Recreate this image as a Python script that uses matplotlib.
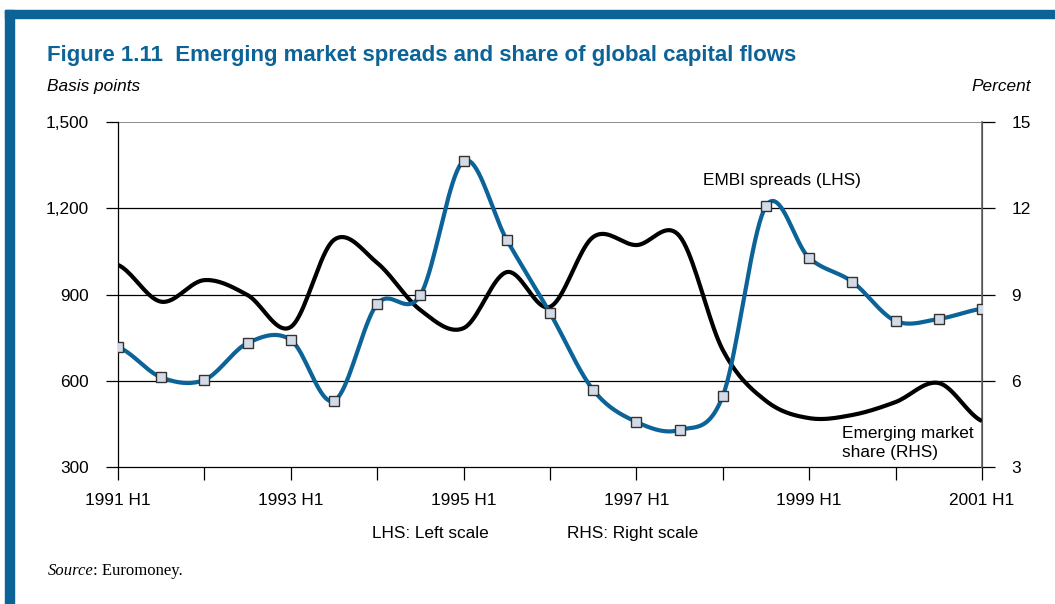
import numpy as np
import matplotlib
matplotlib.use('Agg')
import matplotlib.pyplot as plt
from matplotlib.patches import Rectangle

# half-year periods, 1991 H1 .. 2001 H1
periods = np.arange(1991.0, 2001.01, 0.5)
embi_spreads = [717, 612, 603, 731, 742, 530, 867, 898, 1364, 1090, 836,
                568, 457, 429, 547, 1208, 1027, 944, 808, 815, 850]
em_share = [10.03, 8.75, 9.50, 8.98, 7.87, 10.9, 10.1, 8.46, 7.83, 9.78, 8.57,
            11.0, 10.72, 11.03, 7.07, 5.30, 4.70, 4.81, 5.26, 5.92, 4.60]
xtick_years = [1991, 1993, 1995, 1997, 1999, 2001]

BLUE = '#0b6398'
FS = 12.4


def smooth(x, y, n=20):
    # Catmull-Rom style smoothing like a spreadsheet "smoothed line"
    x = np.asarray(x, float)
    y = np.asarray(y, float)
    yp = np.concatenate([[y[0]], y, [y[-1]]])
    xs, ys = [], []
    for i in range(len(y) - 1):
        p0, p1, p2, p3 = yp[i], yp[i + 1], yp[i + 2], yp[i + 3]
        t = np.linspace(0, 1, n, endpoint=False)
        seg = 0.5 * (2 * p1 + (-p0 + p2) * t + (2 * p0 - 5 * p1 + 4 * p2 - p3) * t ** 2
                     + (-p0 + 3 * p1 - 3 * p2 + p3) * t ** 3)
        xs.append(x[i] + (x[i + 1] - x[i]) * t)
        ys.append(seg)
    xs.append([x[-1]])
    ys.append([y[-1]])
    return np.concatenate(xs), np.concatenate(ys)


plt.rcParams['font.family'] = ['Liberation Sans', 'DejaVu Sans']

fig = plt.figure(figsize=(10.55, 6.04), dpi=100)

# frame
fig.patches.append(Rectangle((0.005, 0.0), 0.008, 0.983, transform=fig.transFigure,
                             color=BLUE, zorder=0))
fig.patches.append(Rectangle((0.005, 0.970), 0.995, 0.014, transform=fig.transFigure,
                             color=BLUE, zorder=0))

fig.text(0.045, 0.908, 'Figure 1.11  Emerging market spreads and share of global capital flows',
         color=BLUE, fontsize=16, fontweight='bold', va='center')
fig.text(0.045, 0.856, 'Basis points', fontsize=FS, style='italic', va='center')
fig.text(0.977, 0.856, 'Percent', fontsize=FS, style='italic', va='center', ha='right')

ax = fig.add_axes([0.1118, 0.2268, 0.8190, 0.5712])
ax2 = ax.twinx()

ax.set_xlim(1991, 2001)
ax.set_ylim(300, 1500)
ax2.set_ylim(3, 15)

ax.set_yticks([300, 600, 900, 1200, 1500])
ax.set_yticklabels([f'{v:,}' for v in [300, 600, 900, 1200, 1500]], fontsize=FS)
ax2.set_yticks([3, 6, 9, 12, 15])
ax2.set_yticklabels(['3', '6', '9', '12', '15'], fontsize=FS)
ax.set_xticks(np.arange(1991, 2002, 1))
ax.set_xticklabels([f'{int(y)} H1' if y in xtick_years else '' for y in np.arange(1991, 2002, 1)],
                   fontsize=FS)

for v in [600, 900, 1200]:
    ax.axhline(v, color='black', lw=0.9, zorder=1)
ax.axhline(1500, color='#777777', lw=1.2, zorder=1)

for a in (ax, ax2):
    a.spines['top'].set_visible(False)
    a.tick_params(length=9, width=0.9, colors='black', pad=12)
ax.spines['left'].set_linewidth(0.9)
ax.spines['bottom'].set_linewidth(0.9)
ax2.spines['right'].set_color('#666666')
ax2.spines['right'].set_linewidth(1.2)
ax2.spines['left'].set_visible(False)
ax2.spines['bottom'].set_visible(False)
ax.tick_params(axis='x', pad=10)

sx, sy = smooth(periods, em_share)
ax2.plot(sx, sy, color='black', lw=3, zorder=3, solid_capstyle='butt')

bx, by = smooth(periods, embi_spreads)
ax2.set_zorder(ax.get_zorder() + 1)
ax.patch.set_visible(False)
ax2.plot(bx, (by - 300) / 100 + 3, color=BLUE, lw=3, zorder=4)
ax2.plot(periods, (np.array(embi_spreads) - 300) / 100 + 3, ls='none', marker='s',
         markersize=7.5, markerfacecolor='#d3dbe8', markeredgecolor='#333333',
         markeredgewidth=1, zorder=5)

ax2.text(1997.77, 12.98, 'EMBI spreads (LHS)', fontsize=FS, va='center')
ax2.text(1999.38, 3.83, 'Emerging market\nshare (RHS)', fontsize=FS, va='center',
         linespacing=1.3)

fig.text(0.4075, 0.1175, 'LHS: Left scale', fontsize=FS, va='center', ha='center')
fig.text(0.600, 0.1175, 'RHS: Right scale', fontsize=FS, va='center', ha='center')

src = fig.text(0.045, 0.054, 'Source', family='Liberation Serif', style='italic',
               fontsize=12, va='center')
fig.canvas.draw()
bb = src.get_window_extent().transformed(fig.transFigure.inverted())
fig.text(bb.x1, 0.054, ': Euromoney.', family='Liberation Serif', fontsize=12, va='center')

fig.savefig('out.png', dpi=100)
